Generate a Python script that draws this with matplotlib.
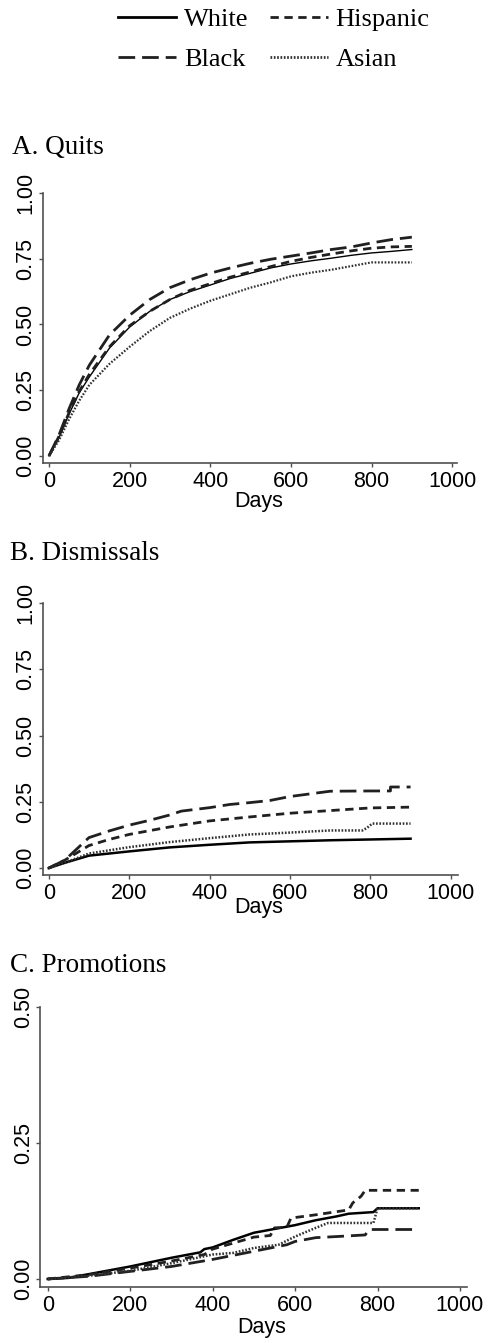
import matplotlib
matplotlib.use("Agg")
import matplotlib.pyplot as plt

plt.rcParams['lines.scale_dashes'] = False

# ---- A. Quits ----
days_a = [0, 25, 50, 75, 100, 150, 200, 250, 300, 350, 400, 450, 500, 550, 600, 650, 700, 750, 800, 850, 900]
white_a = [0, 0.07, 0.16, 0.24, 0.30, 0.41, 0.49, 0.55, 0.595, 0.625, 0.65, 0.675, 0.695, 0.715, 0.73, 0.742, 0.752, 0.763, 0.772, 0.778, 0.785]
hisp_a = [0, 0.075, 0.165, 0.245, 0.31, 0.415, 0.495, 0.55, 0.595, 0.63, 0.655, 0.68, 0.70, 0.72, 0.74, 0.755, 0.768, 0.78, 0.79, 0.795, 0.797]
black_a = [0, 0.08, 0.18, 0.27, 0.345, 0.46, 0.535, 0.595, 0.64, 0.67, 0.695, 0.715, 0.733, 0.748, 0.76, 0.772, 0.785, 0.795, 0.81, 0.823, 0.832]
asian_a = [0, 0.06, 0.14, 0.21, 0.27, 0.35, 0.415, 0.475, 0.525, 0.56, 0.59, 0.615, 0.64, 0.66, 0.683, 0.697, 0.708, 0.722, 0.736, 0.736, 0.736]

# ---- B. Dismissals ----
days_b_white = [0, 40, 100, 200, 300, 400, 500, 600, 700, 800, 900]
white_b = [0, 0.02, 0.047, 0.063, 0.078, 0.088, 0.097, 0.101, 0.105, 0.108, 0.111]
days_b_hisp = [0, 40, 100, 150, 200, 300, 400, 500, 600, 700, 800, 900]
hisp_b = [0, 0.03, 0.085, 0.108, 0.127, 0.155, 0.178, 0.193, 0.207, 0.217, 0.227, 0.23]
days_b_black = [0, 40, 100, 150, 200, 250, 300, 330, 400, 450, 500, 550, 600, 650, 700, 800, 850, 850, 900]
black_b = [0, 0.03, 0.115, 0.14, 0.162, 0.18, 0.2, 0.215, 0.228, 0.24, 0.247, 0.255, 0.27, 0.28, 0.29, 0.291, 0.291, 0.306, 0.306]
days_b_asian = [0, 40, 100, 200, 300, 400, 500, 600, 700, 780, 790, 805, 900]
asian_b = [0, 0.02, 0.055, 0.079, 0.098, 0.113, 0.127, 0.134, 0.142, 0.142, 0.15, 0.168, 0.168]

# ---- C. Promotions ----
days_c_white = [0, 50, 100, 150, 200, 250, 300, 370, 380, 400, 450, 500, 550, 600, 650, 700, 730, 790, 800, 900]
white_c = [0, 0.002, 0.009, 0.016, 0.023, 0.031, 0.039, 0.049, 0.055, 0.058, 0.072, 0.085, 0.092, 0.099, 0.108, 0.115, 0.12, 0.123, 0.13, 0.13]
days_c_hisp = [0, 100, 200, 300, 380, 400, 450, 500, 540, 550, 580, 590, 650, 730, 740, 760, 770, 900]
hisp_c = [0, 0.008, 0.02, 0.033, 0.045, 0.055, 0.066, 0.077, 0.08, 0.094, 0.095, 0.112, 0.118, 0.127, 0.14, 0.152, 0.163, 0.163]
days_c_black = [0, 100, 200, 300, 400, 500, 580, 600, 650, 700, 770, 780, 900]
black_c = [0, 0.005, 0.014, 0.023, 0.036, 0.051, 0.063, 0.069, 0.076, 0.078, 0.081, 0.091, 0.091]
days_c_asian = [0, 100, 200, 300, 400, 450, 500, 560, 600, 650, 680, 790, 800, 900]
asian_c = [0, 0.006, 0.015, 0.029, 0.045, 0.048, 0.057, 0.063, 0.078, 0.094, 0.103, 0.103, 0.13, 0.13]

x_ticks = [0, 200, 400, 600, 800, 1000]

SANS = ['Liberation Sans', 'DejaVu Sans']
SERIF = ['Liberation Serif', 'DejaVu Serif']
AXC = '#505050'

styles = {
    'White': dict(color='black', linestyle='-'),
    'Black': dict(color='#202020', linestyle=(0, (12, 5))),
    'Hispanic': dict(color='#202020', linestyle=(0, (6, 4))),
    'Asian': dict(color='#303030', linestyle=(0, (1.2, 1.2))),
}

fig = plt.figure(figsize=(4.94, 13.43), dpi=100)
H = 1343.0
W = 494.0


def make_axes(left_px, right_px, top_px, bottom_px):
    return fig.add_axes([left_px / W, 1 - bottom_px / H, (right_px - left_px) / W, (bottom_px - top_px) / H])


def style_axes(ax, xlim, ylim, yticks, label_x, label_y):
    ax.set_xlim(*xlim)
    ax.set_ylim(*ylim)
    for s in ['top', 'right']:
        ax.spines[s].set_visible(False)
    for s in ['left', 'bottom']:
        ax.spines[s].set_color(AXC)
        ax.spines[s].set_linewidth(1.2)
    ax.spines['left'].set_bounds(ylim[0], yticks[-1])
    ax.set_xticks(x_ticks)
    ax.set_yticks(yticks)
    ax.set_yticklabels(['%.2f' % v for v in yticks], rotation=90, va='center', family=SANS, fontsize=15.5)
    ax.set_xticklabels([str(v) for v in x_ticks], family=SANS, fontsize=15.5)
    ax.tick_params(axis='y', length=3, width=1, color=AXC, pad=1.5)
    ax.tick_params(axis='x', length=3, width=1, color=AXC, pad=3)
    ax.set_xlabel('Days', family=SANS, fontsize=15.5, va='center')
    ax.xaxis.set_label_coords(label_x, label_y)


# Panel A
axA = make_axes(42.7, 457, 193, 463)
axA.plot(days_a, white_a, lw=1.0, **styles['White'])
axA.plot(days_a, hisp_a, lw=2.0, **styles['Hispanic'])
axA.plot(days_a, black_a, lw=2.0, **styles['Black'])
axA.plot(days_a, asian_a, lw=1.6, **styles['Asian'])
style_axes(axA, (-15.6, 1012), (-0.027, 1.0), [0, 0.25, 0.5, 0.75, 1.0], 0.522, -0.141)

# Panel B
axB = make_axes(42.7, 458, 603, 875)
axB.plot(days_b_white, white_b, lw=1.8, **styles['White'])
axB.plot(days_b_hisp, hisp_b, lw=2.0, **styles['Hispanic'])
axB.plot(days_b_black, black_b, lw=2.0, **styles['Black'])
axB.plot(days_b_asian, asian_b, lw=1.8, **styles['Asian'])
style_axes(axB, (-15, 1018), (-0.026, 1.0), [0, 0.25, 0.5, 0.75, 1.0], 0.519, -0.121)

# Panel C
axC = make_axes(40, 467, 1007, 1287)
axC.plot(days_c_white, white_c, lw=1.8, **styles['White'])
axC.plot(days_c_hisp, hisp_c, lw=2.0, **styles['Hispanic'])
axC.plot(days_c_black, black_c, lw=2.0, **styles['Black'])
axC.plot(days_c_asian, asian_c, lw=1.8, **styles['Asian'])
style_axes(axC, (-18.7, 1017), (-0.0147, 0.5), [0, 0.25, 0.5], 0.52, -0.143)

# panel titles
fig.text(12 / W, 1 - 148 / H, 'A. Quits', family=SERIF, fontsize=19.5, va='center', ha='left')
fig.text(10 / W, 1 - 553 / H, 'B. Dismissals', family=SERIF, fontsize=19.5, va='center', ha='left')
fig.text(10 / W, 1 - 965 / H, 'C. Promotions', family=SERIF, fontsize=19.5, va='center', ha='left')

# legend
order = ['White', 'Black', 'Hispanic', 'Asian']
handles = [plt.Line2D([], [], lw=2.0, **styles[k]) for k in order]
fig.legend(handles, order, loc='upper left', bbox_to_anchor=(118 / W, 1 - 8 / H), ncol=2,
           frameon=False, borderpad=0, borderaxespad=0, handlelength=2.2, handletextpad=0.3,
           columnspacing=0.8, labelspacing=0.6, prop={'family': SERIF, 'size': 19})

fig.savefig('out.png', dpi=100)
